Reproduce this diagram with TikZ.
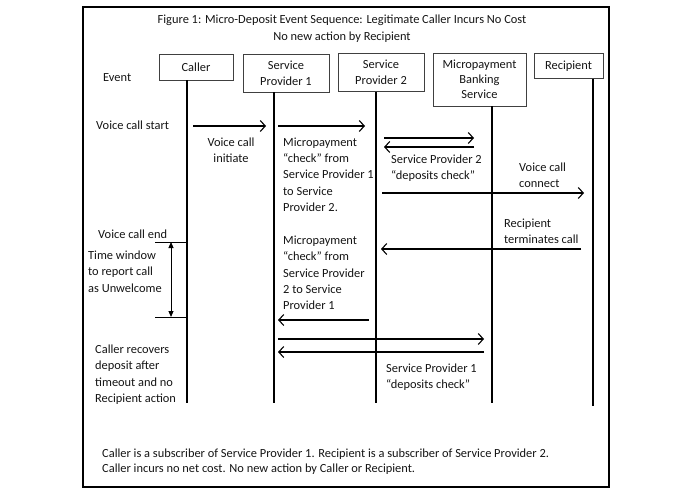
\documentclass[tikz,border=0pt]{standalone}
\usepackage{fontspec}
\setmainfont{Carlito}
\usetikzlibrary{arrows.meta}
\newcommand\tstr{\rule{0pt}{10pt}}
\begin{document}
\begin{tikzpicture}[x=1pt,y=-1pt,
  every node/.style={font=\fontsize{12.4}{16.3}\selectfont, text=black!92},
  actor/.style={draw=black!75, line width=0.8pt, align=center, inner sep=2pt},
  life/.style={line width=1.1pt},
  msg/.style={line width=1.1pt, -{Straight Barb[length=5pt,width=11pt,line width=1.1pt]}},
  lbl/.style={inner sep=0pt, align=left, anchor=north west},
  clbl/.style={inner sep=0pt, align=center, anchor=north},
  tick/.style={line width=1pt},
  span/.style={line width=1pt, {Triangle[length=6pt,width=5pt]}-{Triangle[length=6pt,width=5pt]}}]
\useasboundingbox (0,0) rectangle (695,494);
\draw[line width=1.4pt] (83,7) rectangle (609,487);

% title
\node[clbl, font=\fontsize{12.4}{16.5}\selectfont] (title) at (342,13.5) {\tstr Figure 1: Micro-Deposit Event Sequence: Legitimate Caller Incurs No Cost\\No new action by Recipient};

% actors
\node[actor, minimum width=74pt, minimum height=26pt] (caller) at (196,67) {Caller};
\node[actor, minimum width=86pt, minimum height=38pt, font=\fontsize{12.4}{16}\selectfont] (sp1) at (286,73) {Service\\Provider 1};
\node[actor, minimum width=86pt, minimum height=38pt, font=\fontsize{12.4}{16}\selectfont] (sp2) at (381,72.5) {Service\\Provider 2};
\node[actor, minimum width=93pt, minimum height=53pt, font=\fontsize{12.4}{15}\selectfont] (mbs) at (479.5,79.5) {Micropayment\\Banking\\Service};
\node[actor, minimum width=69pt, minimum height=25pt] (rec) at (568.5,66) {Recipient};

\node[lbl, anchor=base west] (event) at (103,81.2) {Event};

% lifelines
\coordinate (cl) at (187,403);
\coordinate (s1l) at (274,403);
\coordinate (s2l) at (376,403);
\coordinate (ml) at (492,403);
\coordinate (rl) at (593,406);
\draw[life] (cl |- caller.south) -- (cl);
\draw[life] (s1l |- sp1.south) -- (s1l);
\draw[life] (s2l |- sp2.south) -- (s2l);
\draw[life] (ml |- mbs.south) -- (ml);
\draw[life] (rl |- rec.south) -- (rl);

% messages
\coordinate (m1a) at (193,126); \coordinate (m1b) at (266,126);
\coordinate (m2a) at (278,126); \coordinate (m2b) at (365,126);
\coordinate (m3a) at (384,138); \coordinate (m3b) at (474,138);
\coordinate (m4a) at (474,147); \coordinate (m4b) at (384,147);
\coordinate (m5a) at (382,193); \coordinate (m5b) at (584,193);
\coordinate (m6a) at (581,249); \coordinate (m6b) at (381,249);
\coordinate (m7a) at (369,320); \coordinate (m7b) at (278,320);
\coordinate (m8a) at (278,339); \coordinate (m8b) at (484,339);
\coordinate (m9a) at (484,352); \coordinate (m9b) at (278,352);
\draw[msg] (m1a) -- (m1b);
\draw[msg] (m2a) -- (m2b);
\draw[msg] (m3a) -- (m3b);
\draw[msg] (m4a) -- (m4b);
\draw[msg] (m5a) -- (m5b);
\draw[msg] (m6a) -- (m6b);
\draw[msg] (m7a) -- (m7b);
\draw[msg] (m8a) -- (m8b);
\draw[msg] (m9a) -- (m9b);

% time window
\coordinate (tw1a) at (155,242); \coordinate (tw1b) at (186,242);
\coordinate (tw2a) at (155,317); \coordinate (tw2b) at (186,317);
\coordinate (twt) at (171,242); \coordinate (twb) at (171,317);
\draw[tick] (tw1a) -- (tw1b);
\draw[tick] (tw2a) -- (tw2b);
\draw[span] (twt) -- (twb);

% labels
\node[lbl, anchor=base west] (vcs) at (96,129.2) {Voice call start};
\node[clbl] (vci) at (231,136.2) {\tstr Voice call\\initiate};
\node[lbl] (mc1) at (283,136.2) {\tstr Micropayment\\“check” from\\Service Provider 1\\to Service\\Provider 2.};
\node[lbl] (sp2dc) at (391,153.2) {\tstr Service Provider 2\\“deposits check”};
\node[lbl] (vcc) at (519,161.2) {\tstr Voice call\\connect};
\node[lbl] (rtc) at (504,217.2) {\tstr Recipient\\terminates call};
\node[lbl, anchor=base west] (vce) at (98,238.2) {Voice call end};
\node[lbl] (tw) at (88,249.2) {\tstr Time window\\to report call\\as Unwelcome};
\node[lbl] (mc2) at (283,234.2) {\tstr Micropayment\\“check” from\\Service Provider\\2 to Service\\Provider 1};
\node[lbl] (crd) at (95,343.2) {\tstr Caller recovers\\deposit after\\timeout and no\\Recipient action};
\node[lbl] (sp1dc) at (386,362.2) {\tstr Service Provider 1\\“deposits check”};
\node[lbl, font=\fontsize{12.4}{15.5}\selectfont] (foot) at (102,447.2) {\tstr Caller is a subscriber of Service Provider 1. Recipient is a subscriber of Service Provider 2.\\Caller incurs no net cost. No new action by Caller or Recipient.};
\end{tikzpicture}
\end{document}
